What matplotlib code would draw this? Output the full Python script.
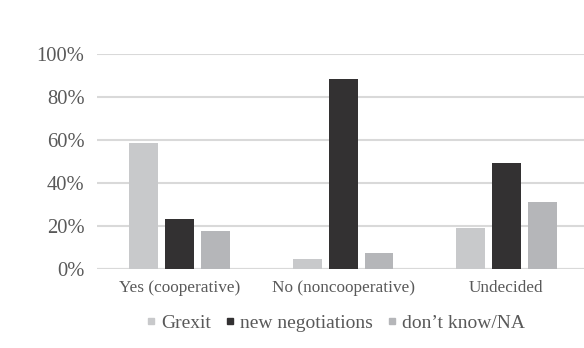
import matplotlib.pyplot as plt
from matplotlib.lines import Line2D
import numpy as np

categories = ['Yes (cooperative)', 'No (noncooperative)', 'Undecided']
series_names = ['Grexit', 'new negotiations', 'don\u2019t know/NA']
grexit = [58.6, 4.9, 19.3]
new_negotiations = [23.4, 88.4, 49.3]
dont_know = [18.0, 7.4, 31.4]
yticks = [0, 20, 40, 60, 80, 100]

colors = ['#C8C9CB', '#333132', '#B5B6B9']

plt.rcParams['font.family'] = ['Liberation Serif', 'DejaVu Serif']

fig = plt.figure(figsize=(5.84, 3.48), dpi=100)
ax = fig.add_axes([97 / 584, (348 - 269.3) / 348, 487 / 584, 215.3 / 348])

x = np.arange(len(categories))
width = 0.177
offset = 0.22
for i, (vals, col) in enumerate(zip([grexit, new_negotiations, dont_know], colors)):
    ax.bar(x + (i - 1) * offset, vals, width, color=col, zorder=3)

ax.set_xlim(-0.505, 2.474)
ax.set_ylim(0, 100)
ax.set_yticks(yticks)
ax.set_yticklabels([f'{t}%' for t in yticks])
ax.set_xticks(x)
ax.set_xticklabels(categories)
ax.yaxis.grid(True, color='#D9D9D9', linewidth=1.5, zorder=0)
ax.set_axisbelow(True)
for s in ax.spines.values():
    s.set_visible(False)
ax.axhline(0, color='#D9D9D9', linewidth=1.5, zorder=2)
ax.tick_params(axis='y', length=0, pad=9, labelsize=14.8, labelcolor='#595959')
ax.tick_params(axis='x', length=0, pad=8, labelsize=12.4, labelcolor='#595959')

# small square legend markers below the axes
handles = [Line2D([], [], marker='s', linestyle='none', markersize=5,
                  markerfacecolor=c, markeredgecolor=c) for c in colors]
fig.legend(handles, series_names, loc='center', bbox_to_anchor=(335.5 / 584, 1 - 323 / 348),
           ncol=3, frameon=False, fontsize=14, handlelength=0.5, handletextpad=0.3,
           columnspacing=0.7, labelcolor='#595959')

fig.savefig('out.png', dpi=100)
